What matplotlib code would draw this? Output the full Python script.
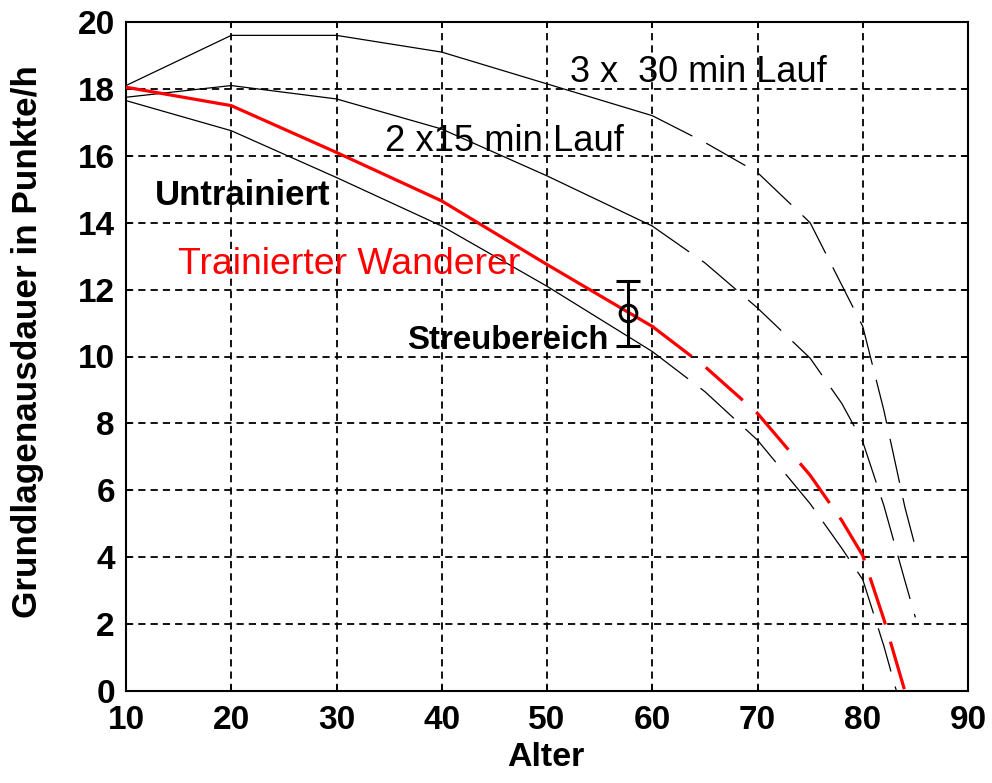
import matplotlib
matplotlib.use("Agg")
import matplotlib.pyplot as plt
import numpy as np

plt.rcParams['font.family'] = ['Liberation Sans', 'DejaVu Sans']

# ---- data ----
age_3x30 = [10, 20, 30, 40, 50, 60, 65, 70, 75, 80, 82, 84, 85]
val_3x30 = [18.1, 19.6, 19.6, 19.1, 18.15, 17.2, 16.4, 15.5, 14.0, 10.9, 8.4, 5.5, 4.3]

age_2x15 = [10, 20, 30, 40, 50, 60, 65, 70, 75, 78, 80, 82, 84, 85]
val_2x15 = [17.75, 18.1, 17.7, 16.8, 15.4, 13.9, 12.8, 11.45, 9.95, 8.6, 7.45, 5.55, 3.3, 2.2]

age_red = [10, 20, 30, 40, 50, 60, 65, 70, 75, 78, 80, 82, 84]
val_red = [18.05, 17.5, 16.1, 14.65, 12.75, 10.9, 9.7, 8.3, 6.45, 5.1, 4.05, 2.15, 0.0]

age_un = [10, 20, 30, 40, 50, 60, 65, 70, 75, 78, 80, 82, 83.2]
val_un = [17.65, 16.75, 15.35, 13.9, 12.1, 10.15, 8.95, 7.5, 5.6, 4.27, 3.33, 1.35, 0.0]

err_age = [57.7]
err_mean = [11.3]
err_low = [10.3]
err_high = [12.25]

solid_limit = 60

xticks = [10, 20, 30, 40, 50, 60, 70, 80, 90]
yticks = [0, 2, 4, 6, 8, 10, 12, 14, 16, 18, 20]

fig = plt.figure(figsize=(9.92, 7.83), dpi=100)
ax = fig.add_axes([126/992, 1-691/783, (968-126)/992, (691-22)/783])

def draw(ages, vals, color, lw, dash):
    a = np.array(ages, dtype=float)
    v = np.array(vals, dtype=float)
    s = a <= solid_limit
    d = a >= solid_limit
    ax.plot(a[s], v[s], color=color, lw=lw, solid_joinstyle='miter', zorder=3)
    ax.plot(a[d], v[d], color=color, lw=lw, linestyle=(0, dash), zorder=3)

draw(age_3x30, val_3x30, 'black', 0.9, (36, 12.5))
draw(age_2x15, val_2x15, 'black', 0.9, (36, 12.5))
draw(age_un, val_un, 'black', 0.9, (36, 12.5))
draw(age_red, val_red, '#ff0000', 2.3, (15.5, 5.6))

yerr = [[m - l for m, l in zip(err_mean, err_low)], [h - m for m, h in zip(err_mean, err_high)]]
ax.errorbar(err_age, err_mean, yerr=yerr, fmt='o', mfc='none', mec='black', mew=2.2,
            ms=12, ecolor='black', elinewidth=2.2, capsize=8.5, capthick=2.2, zorder=4)

ax.set_xlim(10, 90)
ax.set_ylim(0, 20)
ax.set_xticks(xticks)
ax.set_yticks(yticks)
ax.grid(True, color='black', lw=1.3, linestyle=(0, (4, 2.8)))
ax.set_axisbelow(True)
for sp in ax.spines.values():
    sp.set_linewidth(1.5)
ax.tick_params(direction='in', length=4, width=1.2, top=True, right=True,
               labelsize=24, pad=8)
ax.tick_params(axis='x', pad=10)
for lab in ax.get_xticklabels() + ax.get_yticklabels():
    lab.set_fontweight('bold')

fig.text(546/992, 1-757/783, 'Alter', ha='center', va='center', fontsize=24.5, fontweight='bold')
fig.text(28/992, 1-342/783, 'Grundlagenausdauer in Punkte/h', ha='center', va='center',
         rotation=90, fontsize=25.3, fontweight='bold')

ax.text(52.2, 18.48, '3 x  30 min Lauf', ha='left', va='center', fontsize=26)
ax.text(34.6, 16.44, '2 x15 min Lauf', ha='left', va='center', fontsize=26.2)
ax.text(12.75, 14.8, 'Untrainiert', ha='left', va='center', fontsize=25, fontweight='bold')
ax.text(14.95, 12.74, 'Trainierter Wanderer', ha='left', va='center', fontsize=26.9, color='#ff0000')
ax.text(36.7, 10.49, 'Streubereich', ha='left', va='center', fontsize=23.8, fontweight='bold')

fig.savefig('out.png', dpi=100)
